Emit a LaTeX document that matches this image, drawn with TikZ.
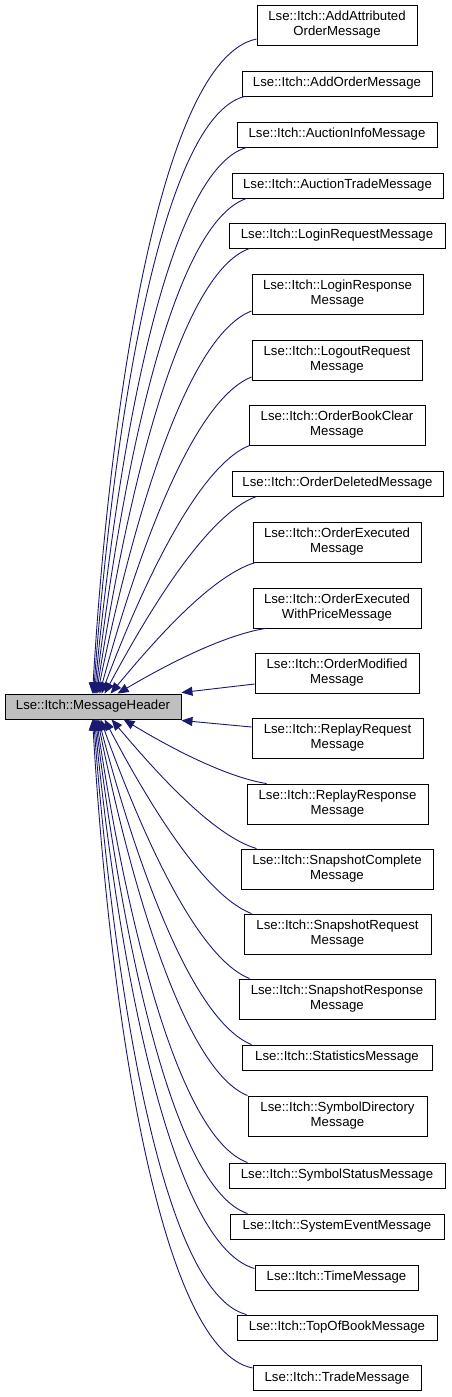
\documentclass[tikz,border=0pt]{standalone}
\usepackage{fontspec}
\setmainfont{Liberation Sans}
\usetikzlibrary{arrows.meta}
\definecolor{edgeblue}{RGB}{25,25,112}
\definecolor{hdrgray}{RGB}{191,191,191}
\begin{document}
\begin{tikzpicture}[x=1pt,y=-1pt,
  boxa/.style={draw=black, line width=0.9pt, fill=white, inner sep=0pt, minimum height=25pt, align=center, font=\fontsize{13.2}{15}\selectfont},
  boxb/.style={boxa, minimum height=40pt},
  hdrbox/.style={boxa, fill=hdrgray},
  inh/.style={draw=edgeblue, line width=0.9pt, -{Triangle[length=11pt,width=9pt]}}]
\useasboundingbox (0,0) rectangle (451,1397);
% base class
\node[hdrbox, minimum width=176pt] (hdr) at (93,706.5) {Lse::Itch::MessageHeader};
% derived classes
\node[boxb, minimum width=160pt] (n1) at (337,25) {Lse::Itch::AddAttributed\\OrderMessage};
\node[boxa, minimum width=190pt] (n2) at (337,83.5) {Lse::Itch::AddOrderMessage};
\node[boxa, minimum width=200pt] (n3) at (337,134.5) {Lse::Itch::AuctionInfoMessage};
\node[boxa, minimum width=211pt] (n4) at (337.5,185.5) {Lse::Itch::AuctionTradeMessage};
\node[boxa, minimum width=216pt] (n5) at (337,235.5) {Lse::Itch::LoginRequestMessage};
\node[boxb, minimum width=171pt] (n6) at (337.5,294) {Lse::Itch::LoginResponse\\Message};
\node[boxb, minimum width=170pt] (n7) at (337,360) {Lse::Itch::LogoutRequest\\Message};
\node[boxb, minimum width=176pt] (n8) at (337,425) {Lse::Itch::OrderBookClear\\Message};
\node[boxa, minimum width=211pt] (n9) at (337.5,483.5) {Lse::Itch::OrderDeletedMessage};
\node[boxb, minimum width=168pt] (n10) at (337,542) {Lse::Itch::OrderExecuted\\Message};
\node[boxb, minimum width=168pt] (n11) at (337,608) {Lse::Itch::OrderExecuted\\WithPriceMessage};
\node[boxb, minimum width=164pt] (n12) at (337,673) {Lse::Itch::OrderModified\\Message};
\node[boxb, minimum width=171pt] (n13) at (337.5,738) {Lse::Itch::ReplayRequest\\Message};
\node[boxb, minimum width=181pt] (n14) at (337.5,804) {Lse::Itch::ReplayResponse\\Message};
\node[boxb, minimum width=192pt] (n15) at (337,869) {Lse::Itch::SnapshotComplete\\Message};
\node[boxb, minimum width=187pt] (n16) at (337.5,934) {Lse::Itch::SnapshotRequest\\Message};
\node[boxb, minimum width=196pt] (n17) at (337,999) {Lse::Itch::SnapshotResponse\\Message};
\node[boxa, minimum width=190pt] (n18) at (337,1057.5) {Lse::Itch::StatisticsMessage};
\node[boxb, minimum width=179pt] (n19) at (337.5,1116) {Lse::Itch::SymbolDirectory\\Message};
\node[boxa, minimum width=216pt] (n20) at (337,1175.5) {Lse::Itch::SymbolStatusMessage};
\node[boxa, minimum width=214pt] (n21) at (337,1226.5) {Lse::Itch::SystemEventMessage};
\node[boxa, minimum width=163pt] (n22) at (336.5,1277.5) {Lse::Itch::TimeMessage};
\node[boxa, minimum width=200pt] (n23) at (337,1327.5) {Lse::Itch::TopOfBookMessage};
\node[boxa, minimum width=168pt] (n24) at (337,1378) {Lse::Itch::TradeMessage};
% inheritance edges (upper)
\draw[inh] ([yshift=-14pt]n1.west) .. controls +(-98,20) and +(16,-275) .. ([xshift=88pt]hdr.north west);
\draw[inh] ([xshift=3pt]n2.south west) .. controls +(-86,22) and +(18,-250) .. ([xshift=89pt]hdr.north west);
\draw[inh] ([xshift=10pt]n3.south west) .. controls +(-82,24) and +(21,-228) .. ([xshift=90pt]hdr.north west);
\draw[inh] ([xshift=15pt]n4.south west) .. controls +(-77,26) and +(24,-205) .. ([xshift=91pt]hdr.north west);
\draw[inh] ([xshift=21pt]n5.south west) .. controls +(-73,26) and +(28,-184) .. ([xshift=92pt]hdr.north west);
\draw[inh] ([yshift=-17pt]n6.west) .. controls +(-68,26) and +(32,-157) .. ([xshift=93pt]hdr.north west);
\draw[inh] ([yshift=-17pt]n7.west) .. controls +(-61,24) and +(35,-129) .. ([xshift=95pt]hdr.north west);
\draw[inh] ([xshift=1pt]n8.south west) .. controls +(-53,21) and +(38,-101) .. ([xshift=97pt]hdr.north west);
\draw[inh] ([xshift=25pt]n9.south west) .. controls +(-50,18) and +(43,-80) .. ([xshift=100pt]hdr.north west);
\draw[inh] ([xshift=3pt]n10.south west) .. controls +(-44,13) and +(44,-53) .. ([xshift=106pt]hdr.north west);
\draw[inh] ([xshift=13pt]n11.south west) .. controls +(-44,7) and +(44,-26) .. ([xshift=113pt]hdr.north west);
\draw[inh] ([yshift=-11pt]n12.west) -- ([yshift=1pt]hdr.north east);
% inheritance edges (lower)
\draw[inh] ([yshift=11pt]n13.west) -- ([yshift=-1pt]hdr.south east);
\draw[inh] ([xshift=20pt]n14.north west) .. controls +(-43,-7) and +(43,26) .. ([xshift=119pt]hdr.south west);
\draw[inh] ([xshift=16pt]n15.north west) .. controls +(-44,-13) and +(44,52) .. ([xshift=107pt]hdr.south west);
\draw[inh] ([xshift=8pt]n16.north west) .. controls +(-48,-18) and +(41,78) .. ([xshift=100pt]hdr.south west);
\draw[inh] ([xshift=11pt]n17.north west) .. controls +(-55,-22) and +(38,105) .. ([xshift=96pt]hdr.south west);
\draw[inh] ([xshift=10pt]n18.north west) .. controls +(-62,-25) and +(35,133) .. ([xshift=94pt]hdr.south west);
\draw[inh] ([xshift=0pt]n19.north west) .. controls +(-65,-26) and +(31,154) .. ([xshift=93pt]hdr.south west);
\draw[inh] ([xshift=19pt]n20.north west) .. controls +(-72,-26) and +(27,183) .. ([xshift=92pt]hdr.south west);
\draw[inh] ([xshift=18pt]n21.north west) .. controls +(-77,-26) and +(25,205) .. ([xshift=91pt]hdr.south west);
\draw[inh] ([yshift=9pt]n22.west) .. controls +(-86,-24) and +(22,228) .. ([xshift=90pt]hdr.south west);
\draw[inh] ([xshift=10pt]n23.north west) .. controls +(-87,-22) and +(19,249) .. ([xshift=89pt]hdr.south west);
\draw[inh] ([yshift=10pt]n24.west) .. controls +(-96,-19) and +(16,273) .. ([xshift=88pt]hdr.south west);
\end{tikzpicture}
\end{document}
